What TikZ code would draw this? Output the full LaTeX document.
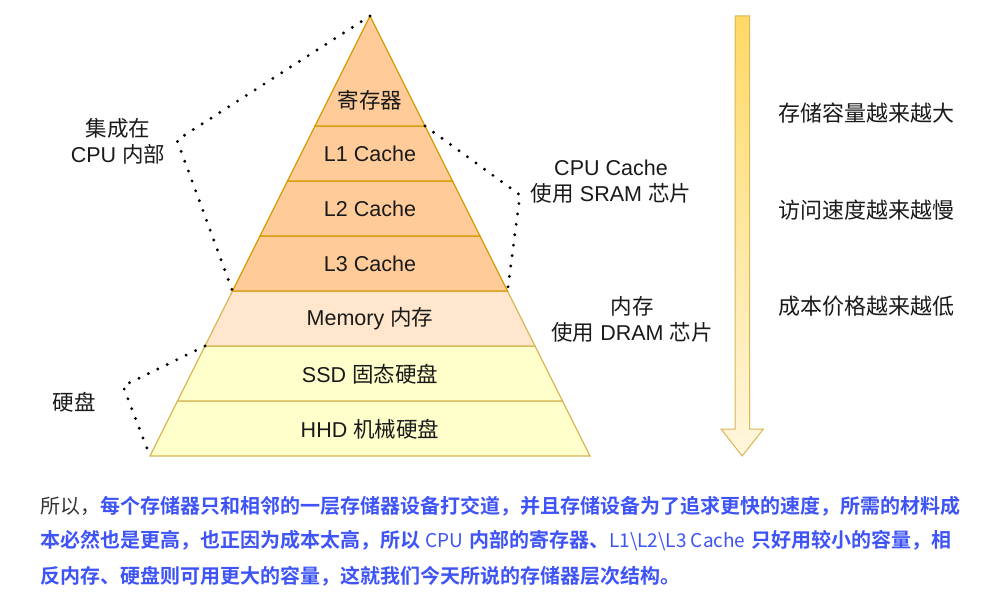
\documentclass[tikz,border=0pt]{standalone}
\usepackage{fontspec}
\setmainfont{Liberation Sans}
\newfontfamily\zh{Noto Sans CJK SC}
\newfontfamily\zhb{Noto Sans CJK SC Bold}
\definecolor{orfill}{HTML}{FFCC99}
\definecolor{orline}{HTML}{D79B00}
\definecolor{memfill}{HTML}{FFE6CC}
\definecolor{yefill}{HTML}{FFFFCC}
\definecolor{yeline}{HTML}{D6B656}
\definecolor{artop}{HTML}{FFD966}
\definecolor{arbot}{HTML}{FFF6DC}
\definecolor{txt}{HTML}{1A1A1A}
\definecolor{para}{HTML}{333333}
\definecolor{blu}{RGB}{62,84,246}
\tikzset{
  band/.style={line width=1.2pt},
  lbl/.style={text=txt,font=\fontsize{21.5}{26}\selectfont,align=center,inner sep=0pt},
  side/.style={text=txt,font=\fontsize{22}{26}\selectfont\zh,anchor=west,inner sep=0pt},
  dots/.style={line width=3.2pt,line cap=round,dash pattern=on 0pt off 10.5pt},
  parl/.style={anchor=west,inner sep=0pt,font=\fontsize{20}{24}\selectfont},
  latn/.style={}
}
\newcommand{\lat}[1]{{\fontsize{19}{24}\selectfont\zh #1}}
\begin{document}
\begin{tikzpicture}[x=1pt,y=-1pt]
\useasboundingbox (0,0) rectangle (990,593);
% pyramid bands
\filldraw[band,fill=yefill,draw=yeline] (177.5,401) -- (562.5,401) -- (590,456) -- (150,456) -- cycle;
\filldraw[band,fill=yefill,draw=yeline] (205,346) -- (535,346) -- (562.5,401) -- (177.5,401) -- cycle;
\filldraw[band,fill=memfill,draw=yeline] (232.5,291) -- (507.5,291) -- (535,346) -- (205,346) -- cycle;
\filldraw[band,fill=orfill,draw=orline] (260,236) -- (480,236) -- (507.5,291) -- (232.5,291) -- cycle;
\filldraw[band,fill=orfill,draw=orline] (287.5,181) -- (452.5,181) -- (480,236) -- (260,236) -- cycle;
\filldraw[band,fill=orfill,draw=orline] (315,126) -- (425,126) -- (452.5,181) -- (287.5,181) -- cycle;
\filldraw[band,fill=orfill,draw=orline] (370,16) -- (425,126) -- (315,126) -- cycle;
% band labels
\node[lbl] (reg) at (370,100) {\zh 寄存器};
\node[lbl] (l1) at (370,154) {L1 Cache};
\node[lbl] (l2) at (370,209) {L2 Cache};
\node[lbl] (l3) at (370,264) {L3 Cache};
\node[lbl] (mem) at (370,319) {Memory {\zh 内存}};
\node[lbl] (ssd) at (370,374) {SSD {\zh 固态硬盘}};
\node[lbl] (hhd) at (370,429) {HHD {\zh 机械硬盘}};
% dotted brackets
\coordinate (apex) at (370,16);
\coordinate (lc) at (177,140);
\coordinate (l3l) at (232.5,291);
\coordinate (l1r) at (425,126);
\coordinate (rc) at (520,195);
\coordinate (l3r) at (507.5,291);
\coordinate (ssdl) at (205,346);
\coordinate (bc) at (123,386);
\coordinate (hhdl) at (150,456);
\draw[dots] (apex) -- (lc) -- (l3l);
\draw[dots] (l1r) -- (rc) -- (l3r);
\draw[dots] (ssdl) -- (bc) -- (hhdl);
% side labels
\node[lbl] (cpu) at (118,141) {{\zh 集成在}\\CPU {\zh 内部}};
\node[lbl] (sram) at (611,182) {CPU Cache\\{\zh 使用} SRAM {\zh 芯片}};
\node[lbl] (dram) at (632,319) {{\zh 内存}\\{\zh 使用} DRAM {\zh 芯片}};
\node[lbl] (hd) at (74,402) {\zh 硬盘};
% arrow
\path[top color=artop,bottom color=arbot,draw=yeline,line width=1pt]
  (735,16) -- (749.5,16) -- (749.5,429) -- (763.5,429) -- (742.2,456) -- (721,429) -- (735,429) -- cycle;
\node[side] (t1) at (778,113) {存储容量越来越大};
\node[side] (t2) at (778,210) {访问速度越来越慢};
\node[side] (t3) at (778,306) {成本价格越来越低};
% paragraph
\node[parl] (p1) at (40,506) {{\zh\color{para}所以，}{\zhb\color{blu}每个存储器只和相邻的一层存储器设备打交道，并且存储设备为了追求更快的速度，所需的材料成}};
\node[parl] (p2) at (40,541) {\color{blu}{\zhb 本必然也是更高，也正因为成本太高，所以} \lat{CPU} {\zhb 内部的寄存器、}\lat{L1\textbackslash L2\textbackslash L3 Cache} {\zhb 只好用较小的容量，相}};
\node[parl] (p3) at (40,576) {\color{blu}\zhb 反内存、硬盘则可用更大的容量，这就我们今天所说的存储器层次结构。};
\end{tikzpicture}
\end{document}
